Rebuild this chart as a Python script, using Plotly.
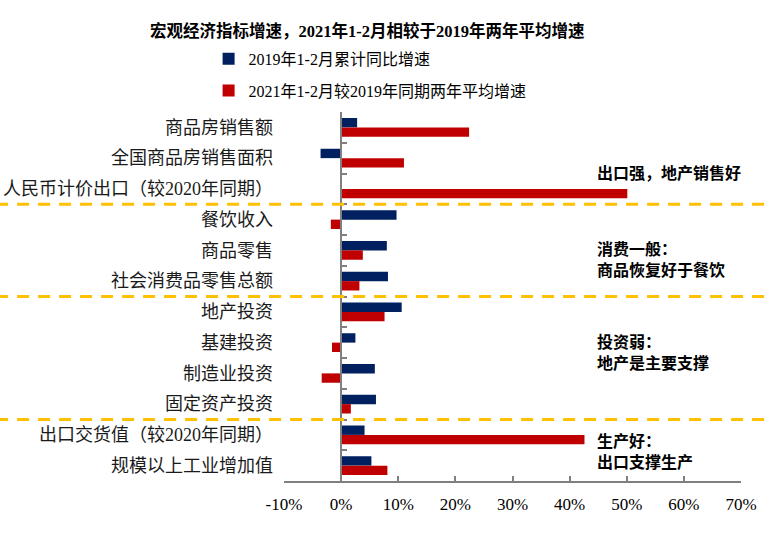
import plotly.graph_objects as go

categories = [
    "商品房销售额",
    "全国商品房销售面积",
    "人民币计价出口（较2020年同期）",
    "餐饮收入",
    "商品零售",
    "社会消费品零售总额",
    "地产投资",
    "基建投资",
    "制造业投资",
    "固定资产投资",
    "出口交货值（较2020年同期）",
    "规模以上工业增加值",
]
series_2019_name = "2019年1-2月累计同比增速"
series_2021_name = "2021年1-2月较2019年同期两年平均增速"
values_2019 = [2.8, -3.6, None, 9.7, 8.0, 8.2, 10.6, 2.5, 5.9, 6.1, 4.1, 5.3]
values_2021 = [22.4, 11.0, 50.1, -1.8, 3.8, 3.2, 7.6, -1.6, -3.4, 1.7, 42.6, 8.1]

group_breaks = [3, 6, 10]  # dashed separators after these many categories
notes = [
    "出口强，地产销售好",
    "消费一般：<br>商品恢复好于餐饮",
    "投资弱：<br>地产是主要支撑",
    "生产好：<br>出口支撑生产",
]
note_y = [0.835, 0.600, 0.348, 0.078]

x_ticks = [-10, 0, 10, 20, 30, 40, 50, 60, 70]
x_tick_labels = [f"{v}%" for v in x_ticks]

title_text = "宏观经济指标增速，2021年1-2月相较于2019年两年平均增速"

SERIF = "Liberation Serif, Noto Sans CJK SC, serif"
BOLD_CJK = "Liberation Serif, Noto Sans CJK SC, sans-serif"

n = len(categories)

fig = go.Figure()
fig.add_trace(go.Bar(
    y=categories, x=values_2019, name=series_2019_name, orientation="h",
    marker=dict(color="#002060", line=dict(width=0)), legendgroup="a",
))
fig.add_trace(go.Bar(
    y=categories, x=values_2021, name=series_2021_name, orientation="h",
    marker=dict(color="#C00000", line=dict(width=0)), legendgroup="b",
))

shapes = []
for k in group_breaks:
    yp = 1 - k / n
    shapes.append(dict(
        type="line", xref="paper", yref="paper",
        x0=-0.63, x1=1.08, y0=yp, y1=yp,
        line=dict(color="#FFC000", width=3, dash="12px,9px"),
        layer="above",
    ))

annotations = []
for txt, yy in zip(notes, note_y):
    annotations.append(dict(
        text="<b>" + txt + "</b>", xref="paper", yref="paper",
        x=0.680, y=yy, xanchor="left", yanchor="middle", align="left",
        showarrow=False, font=dict(family=BOLD_CJK, size=16, color="#000000"),
    ))

fig.update_layout(
    width=773, height=540,
    margin=dict(l=284, r=32, t=112, b=59, autoexpand=False),
    paper_bgcolor="white", plot_bgcolor="white",
    barmode="group", bargap=0.39, bargroupgap=0,
    title=dict(
        text="<b>" + title_text + "</b>",
        x=0.475, xanchor="center", xref="container",
        y=0.942, yanchor="middle",
        font=dict(family=BOLD_CJK, size=16.5, color="#000000"),
    ),
    legend=dict(
        x=-0.165, y=1.19, xanchor="left", yanchor="top",
        orientation="v", traceorder="grouped", tracegroupgap=8,
        font=dict(family=SERIF, size=16, color="#000000"),
        bgcolor="rgba(0,0,0,0)",
    ),
    xaxis=dict(
        range=[-10, 70], tickmode="array", tickvals=x_ticks, ticktext=x_tick_labels,
        showgrid=False, zeroline=False,
        showline=True, linecolor="#808080", linewidth=2,
        ticks="inside", ticklen=5, tickcolor="#808080", tickwidth=1.5,
        tickfont=dict(family=SERIF, size=17, color="#000000"),
        ticklabelstandoff=7,
        fixedrange=True,
    ),
    yaxis=dict(
        type="category", categoryorder="array", categoryarray=categories,
        range=[n - 0.5, -0.5],
        showgrid=False, zeroline=False, showline=False, ticks="",
        tickfont=dict(family=SERIF, size=18, color="#1a1a1a"),
        ticklabelstandoff=10,
    ),
    yaxis2=dict(
        type="category", categoryorder="array", categoryarray=categories,
        matches="y", overlaying="y", anchor="free", position=0.125,
        side="left", showticklabels=False, showgrid=False, zeroline=False,
        showline=True, linecolor="#808080", linewidth=2,
        ticks="inside", ticklen=5, tickcolor="#808080", tickwidth=1.5,
        tickson="boundaries",
    ),
    shapes=shapes,
    annotations=annotations,
    showlegend=True,
)

# invisible helper trace so the zero-axis (yaxis2) is rendered
fig.add_trace(go.Bar(
    y=categories, x=[0] * n, yaxis="y2", orientation="h", showlegend=False,
    hoverinfo="skip", marker=dict(color="rgba(0,0,0,0)"),
))

fig.write_html(
    "out.html",
    config={"displayModeBar": False},
    post_script="document.body.style.margin='0';document.body.style.padding='0';",
)
